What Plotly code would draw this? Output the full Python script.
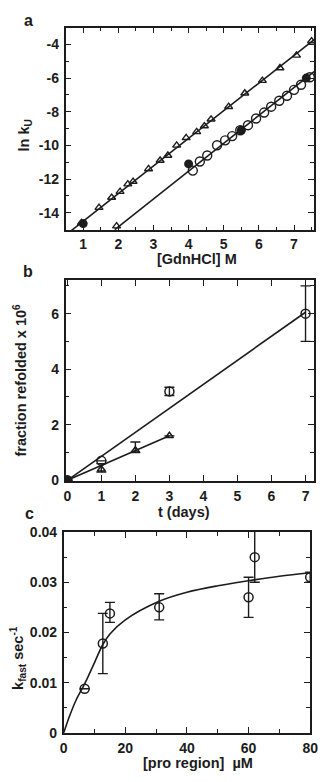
import plotly.graph_objects as go

# ---------------- Panel a data ----------------
a_tri_x = [0.95, 1.45, 1.81, 1.95, 2.05, 2.27, 2.42, 2.86, 3.19, 3.41, 3.66, 3.93, 4.23, 4.45, 4.64, 5.14, 5.6, 6.1, 6.6, 7.07, 7.5]
a_tri_y = [-14.6, -13.7, -13.1, -14.8, -12.75, -12.3, -12.15, -11.4, -10.9, -10.6, -10.0, -9.55, -9.2, -8.85, -8.45, -7.7, -6.9, -6.15, -5.4, -4.65, -3.8]
a_circ_x = [4.12, 4.32, 4.53, 4.81, 5.04, 5.24, 5.47, 5.69, 5.92, 6.15, 6.35, 6.58, 6.8, 7.0, 7.2, 7.45]
a_circ_y = [-11.5, -10.96, -10.6, -9.99, -9.7, -9.45, -9.1, -8.8, -8.4, -8.05, -7.7, -7.35, -7.05, -6.7, -6.4, -5.95]
a_fill_x = [1.0, 4.0, 5.5, 7.35]
a_fill_y = [-14.65, -11.1, -9.1, -6.0]
a_fit1_x = [0.5, 7.6]
a_fit1_y = [-15.33, -3.67]
a_fit2_x = [1.9, 7.6]
a_fit2_y = [-15.0, -5.57]
a_xticks = [1, 2, 3, 4, 5, 6, 7]
a_yticks = [-4, -6, -8, -10, -12, -14]

# ---------------- Panel b data ----------------
b_circ_x = [0, 1, 3, 7]
b_circ_y = [0, 0.7, 3.2, 6.0]
b_circ_err = [0, 0, 0.15, 1.0]
b_tri_x = [0, 1, 2, 3]
b_tri_y = [0, 0.4, 1.08, 1.6]
b_tri_err_plus = [0, 0.2, 0.3, 0]
b_tri_err_minus = [0, 0.1, 0.08, 0]
b_fit1_x = [0, 7]
b_fit1_y = [0, 6.05]
b_fit2_x = [0, 3]
b_fit2_y = [0, 1.6]
b_xticks = [0, 1, 2, 3, 4, 5, 6, 7]
b_yticks = [0, 2, 4, 6]

# ---------------- Panel c data ----------------
c_x = [6.8, 12.7, 15, 31, 60, 62, 80]
c_y = [0.0088, 0.0178, 0.0238, 0.0250, 0.0270, 0.0350, 0.0310]
c_err_plus = [0, 0.006, 0.0022, 0.0027, 0.004, 0.006, 0.001]
c_err_minus = [0, 0.006, 0.0018, 0.0025, 0.004, 0.005, 0.001]
c_fit_x = [0, 2, 4, 7, 10, 12.7, 15, 20, 31, 40, 50, 60, 70, 80]
c_fit_y = [0, 0.0035, 0.0065, 0.0100, 0.0140, 0.0176, 0.0197, 0.0225, 0.0262, 0.0280, 0.0293, 0.0303, 0.0312, 0.0319]
c_xticks = [0, 20, 40, 60, 80]
c_yticks = [0, 0.01, 0.02, 0.03, 0.04]
c_yticklabels = ["0", "0.01", "0.02", "0.03", "0.04"]

INK = "#1c1c1c"
FONT = "Liberation Sans, Arial, Helvetica, sans-serif"
W, H = 323, 782

fig = go.Figure()

def line(x, y, xa, ya, shape="linear"):
    fig.add_trace(go.Scatter(x=x, y=y, mode="lines", xaxis=xa, yaxis=ya,
                             line=dict(color=INK, width=1.6, shape=shape),
                             hoverinfo="skip", showlegend=False))

# Panel a
line(a_fit1_x, a_fit1_y, "x", "y")
line(a_fit2_x, a_fit2_y, "x", "y")
fig.add_trace(go.Scatter(x=a_tri_x, y=a_tri_y, mode="markers", xaxis="x", yaxis="y",
                         marker=dict(symbol="triangle-up-open", size=7, color=INK, line=dict(width=1.4)),
                         showlegend=False))
fig.add_trace(go.Scatter(x=a_circ_x, y=a_circ_y, mode="markers", xaxis="x", yaxis="y",
                         marker=dict(symbol="circle-open", size=9, color=INK, line=dict(width=1.4)),
                         showlegend=False))
fig.add_trace(go.Scatter(x=a_fill_x, y=a_fill_y, mode="markers", xaxis="x", yaxis="y",
                         marker=dict(symbol="circle", size=9, color=INK),
                         showlegend=False))

# Panel b
line(b_fit1_x, b_fit1_y, "x2", "y2")
line(b_fit2_x, b_fit2_y, "x2", "y2")
fig.add_trace(go.Scatter(x=b_circ_x, y=b_circ_y, mode="markers", xaxis="x2", yaxis="y2",
                         marker=dict(symbol="circle-open", size=9, color=INK, line=dict(width=1.5)),
                         error_y=dict(type="data", array=b_circ_err, color=INK, thickness=1.4, width=5),
                         showlegend=False))
fig.add_trace(go.Scatter(x=b_tri_x, y=b_tri_y, mode="markers", xaxis="x2", yaxis="y2",
                         marker=dict(symbol="triangle-up-open", size=7, color=INK, line=dict(width=1.5)),
                         error_y=dict(type="data", array=b_tri_err_plus, arrayminus=b_tri_err_minus,
                                      color=INK, thickness=1.4, width=5),
                         showlegend=False))
fig.add_trace(go.Scatter(x=[0], y=[0], mode="markers", xaxis="x2", yaxis="y2",
                         marker=dict(symbol="circle", size=9, color=INK), showlegend=False))

# Panel c
line(c_fit_x, c_fit_y, "x3", "y3", shape="spline")
fig.add_trace(go.Scatter(x=c_x, y=c_y, mode="markers", xaxis="x3", yaxis="y3",
                         marker=dict(symbol="circle-open", size=9, color=INK, line=dict(width=1.5)),
                         error_y=dict(type="data", array=c_err_plus, arrayminus=c_err_minus,
                                      color=INK, thickness=1.4, width=5),
                         showlegend=False))

def px(x):
    return x / W

def py(y):
    return 1 - y / H

def axis(domain, rng, vals, labels, minor, anchor, standoff):
    d = dict(domain=domain, range=rng, anchor=anchor,
             tickmode="array", tickvals=vals,
             ticktext=["<b>%s</b>" % t for t in labels],
             showline=True, linecolor=INK, linewidth=1.6, mirror="ticks",
             ticks="inside", ticklen=6, tickwidth=1.4, tickcolor=INK,
             showgrid=False, zeroline=False, ticklabelstandoff=standoff,
             ticklabeloverflow="allow",
             tickfont=dict(family=FONT, size=14, color=INK))
    if minor:
        d["minor"] = dict(dtick=minor, tick0=0, ticks="inside", ticklen=4, tickwidth=1.2,
                          tickcolor=INK, showgrid=False)
    return d

fig.update_layout(
    width=W, height=H, margin=dict(l=0, r=0, t=0, b=0),
    paper_bgcolor="white", plot_bgcolor="white",
    xaxis=axis([px(64), px(322)], [0.5, 7.57], a_xticks, [str(v) for v in a_xticks], 0.5, "y", 0),
    yaxis=axis([py(227), py(20)], [-15.05, -3.0], a_yticks, [str(v) for v in a_yticks], 1, "x", 2),
    xaxis2=axis([px(64), px(322)], [-0.05, 7.25], b_xticks, [str(v) for v in b_xticks], None, "y2", 1),
    yaxis2=axis([py(483), py(278)], [-0.03, 7.2], b_yticks, [str(v) for v in b_yticks], 1, "x2", 2),
    xaxis3=axis([px(62), px(318)], [0, 80], c_xticks, [str(v) for v in c_xticks], 10, "y3", 2),
    yaxis3=axis([py(740), py(535)], [0, 0.04], c_yticks, c_yticklabels, 0.005, "x3", 2),
    showlegend=False,
)

def note(text, x, y, size=14.5, angle=0):
    fig.add_annotation(text="<b>%s</b>" % text,
                       x=px(x), y=py(y), xref="paper", yref="paper",
                       showarrow=False, textangle=angle, borderpad=0,
                       font=dict(family=FONT, size=size, color=INK),
                       xanchor="center", yanchor="middle")

note("a", 25, 13, size=16)
note("b", 25, 269, size=16)
note("c", 27, 516, size=16)
note("[GdnHCl] M", 200, 256)
note("ln k<sub>U</sub>", 22, 130, angle=-90)
note("t (days)", 187, 515)
note("fraction refolded x 10<sup>6</sup>", 17, 380, angle=-90)
note("[pro region]  µM", 202, 771)
note("k<sub>fast</sub> sec<sup>-1</sup>", 15, 663, angle=-90)

fig.write_html("out.html", config={"displayModeBar": False},
               post_script="document.body.style.margin='0';document.body.style.overflow='hidden';")
